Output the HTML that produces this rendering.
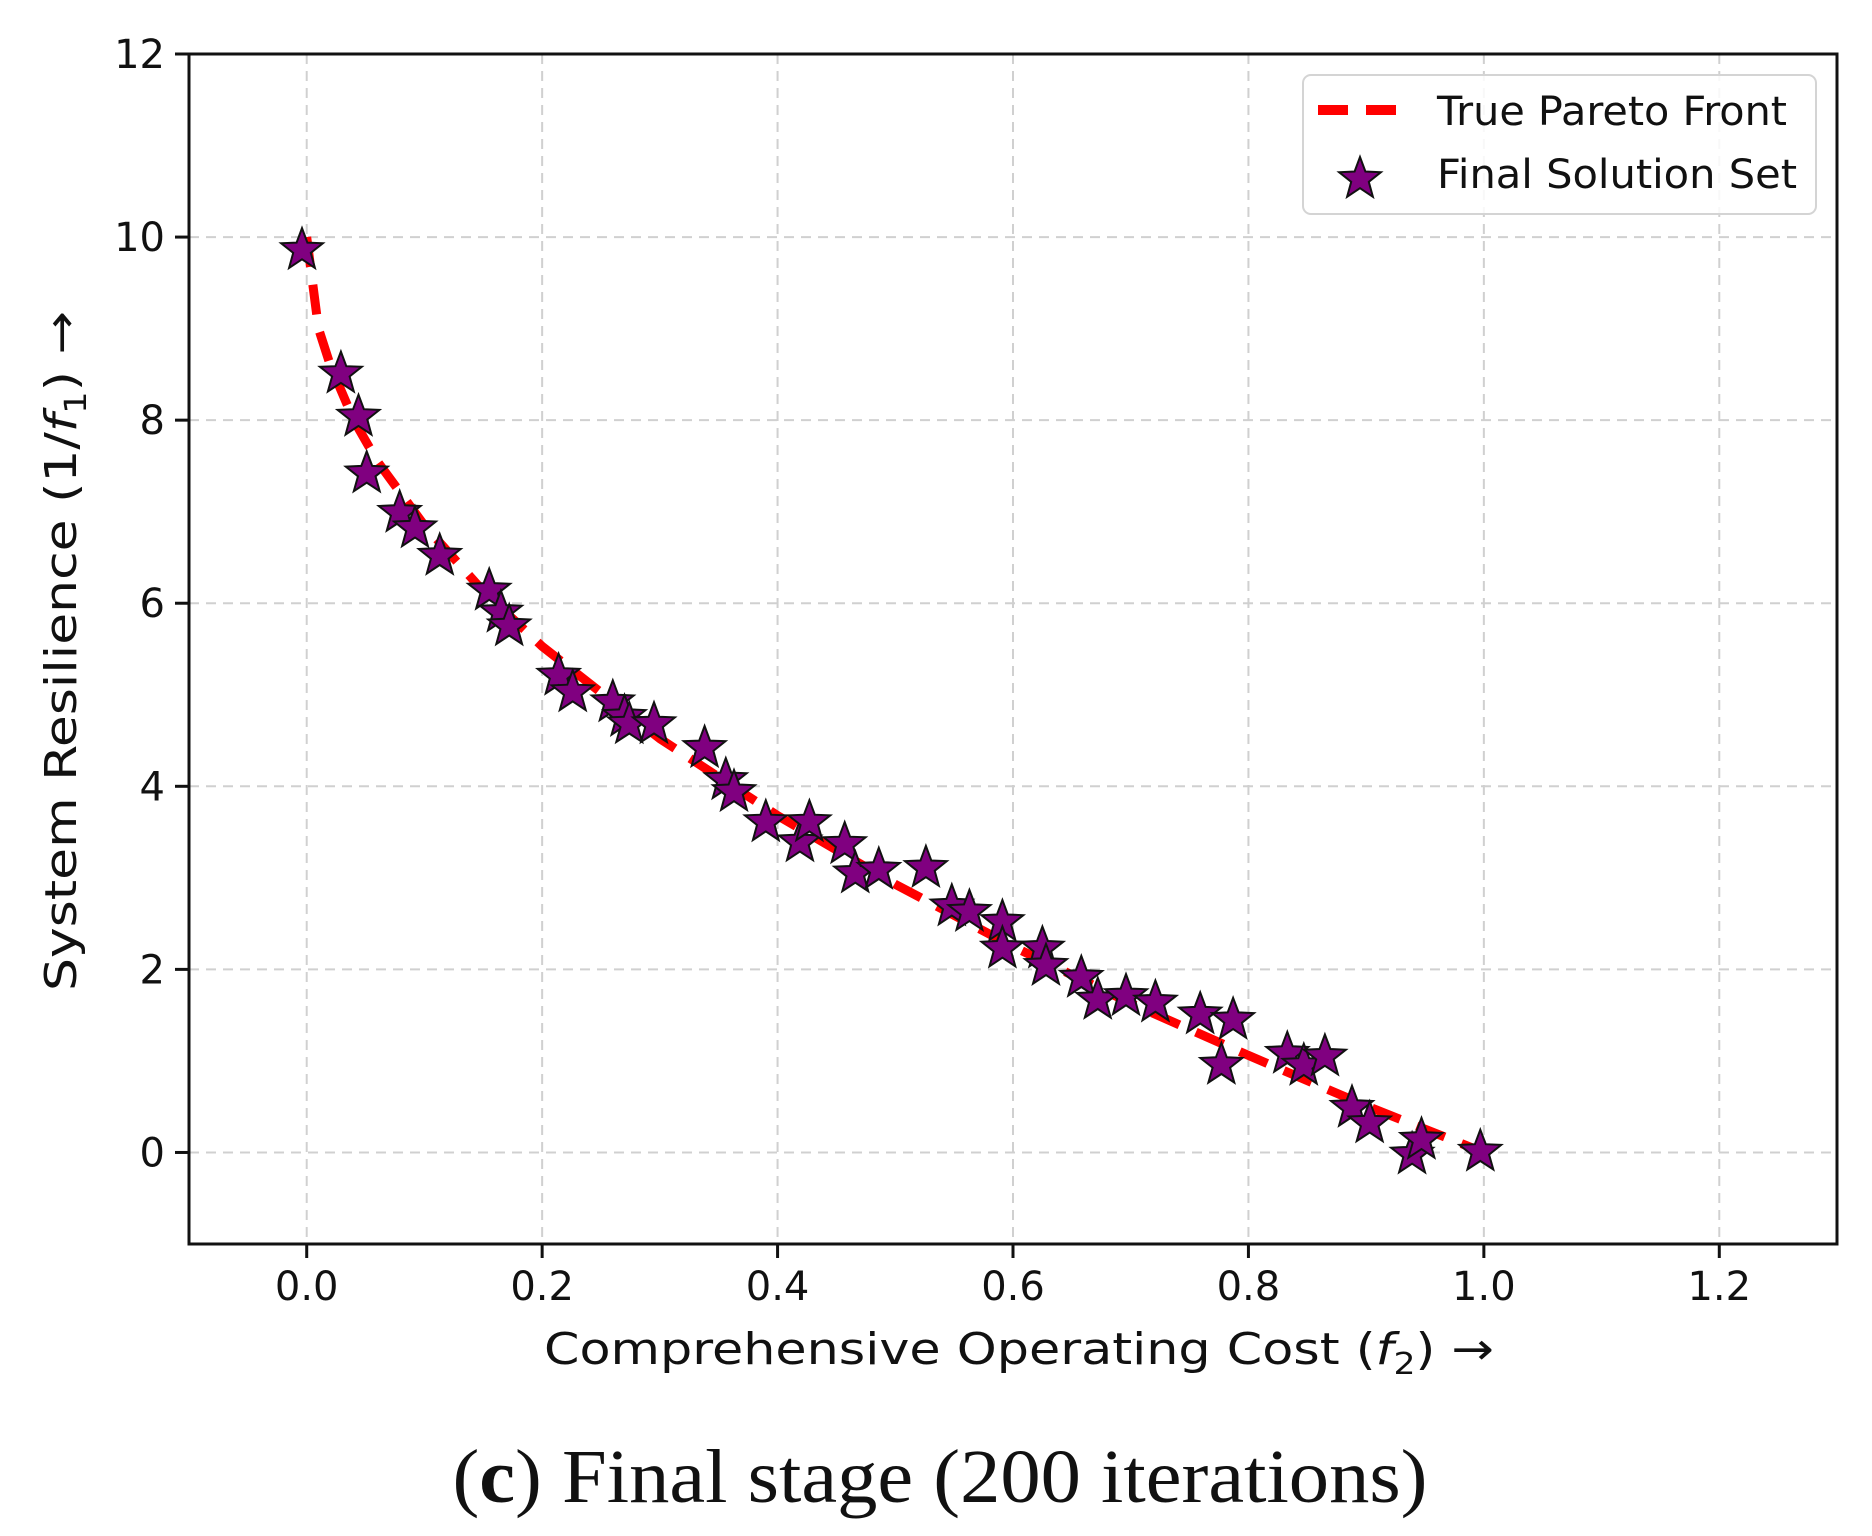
<!DOCTYPE html>
<html><head><meta charset="utf-8"><style>
html,body{margin:0;padding:0;background:#fff;}
svg{display:block;}
text{font-family:"DejaVu Sans","Liberation Sans",sans-serif;fill:#111;}
</style></head><body>
<svg id="chart" width="1872" height="1536" viewBox="0 0 1872 1536" xmlns="http://www.w3.org/2000/svg">
<rect x="0" y="0" width="1872" height="1536" fill="#fff"/>
<g id="grid"></g>
<g id="front"></g>
<g id="stars"></g>
<rect x="189" y="54" width="1648" height="1190" fill="none" stroke="#111" stroke-width="3"/>
<g id="ticks"></g>
<text x="1019" y="1364" font-size="44" text-anchor="middle" textLength="950" lengthAdjust="spacingAndGlyphs">Comprehensive Operating Cost (<tspan font-style="italic">f</tspan><tspan font-size="30" dy="10">2</tspan><tspan dy="-10">) →</tspan></text>
<text transform="translate(76,651) rotate(-90)" font-size="44" text-anchor="middle" textLength="680" lengthAdjust="spacingAndGlyphs">System Resilience (1/<tspan font-style="italic">f</tspan><tspan font-size="30" dy="10">1</tspan><tspan dy="-10">) →</tspan></text>
<g>
<rect x="1303" y="75" width="513" height="139" rx="8" fill="#fff" fill-opacity="0.85" stroke="#d4d4d4" stroke-width="2"/>
<line x1="1318" y1="110" x2="1402" y2="110" stroke="#ff0000" stroke-width="10" stroke-dasharray="30,18"/>
<text x="1437" y="125" font-size="40" textLength="350" lengthAdjust="spacingAndGlyphs">True Pareto Front</text>
<polygon id="legstar" fill="#800080" stroke="#111" stroke-width="2"/>
<text x="1437" y="188" font-size="40" textLength="360" lengthAdjust="spacingAndGlyphs">Final Solution Set</text>
</g>
<text x="940" y="1502" font-size="76" text-anchor="middle" style="font-family:'Liberation Serif',serif" textLength="975" lengthAdjust="spacingAndGlyphs">(<tspan font-weight="bold">c</tspan>) Final stage (200 iterations)</text>
</svg>
<script>
const xTicks = [0.0, 0.2, 0.4, 0.6, 0.8, 1.0, 1.2];
const xTickLabels = ["0.0","0.2","0.4","0.6","0.8","1.0","1.2"];
const yTicks = [0, 2, 4, 6, 8, 10, 12];
const yTickLabels = ["0","2","4","6","8","10","12"];
const frontX = [0,0.01,0.02,0.04,0.06,0.1,0.15,0.2,0.3,0.4,0.5,0.6,0.7,0.8,0.9,1.0];
const frontY = [10,9.0,8.6,8.0,7.55,6.85,6.13,5.53,4.52,3.68,2.93,2.25,1.63,1.06,0.51,0];
const solX = [-0.004,0.029,0.044,0.051,0.079,0.092,0.113,0.155,0.165,0.172,0.214,0.226,0.260,0.270,0.274,0.295,0.338,0.356,0.363,0.390,0.419,0.427,0.457,0.466,0.486,0.526,0.548,0.563,0.591,0.591,0.625,0.628,0.658,0.672,0.696,0.721,0.759,0.787,0.777,0.833,0.847,0.865,0.888,0.903,0.939,0.947,0.997];
const solY = [9.88,8.53,8.06,7.44,7.01,6.84,6.54,6.16,5.92,5.77,5.23,5.05,4.94,4.78,4.70,4.70,4.44,4.09,3.96,3.63,3.41,3.63,3.39,3.07,3.11,3.13,2.71,2.65,2.54,2.25,2.25,2.06,1.93,1.69,1.73,1.66,1.53,1.47,0.98,1.10,0.97,1.07,0.51,0.34,0.00,0.16,0.03];

const L=189,R=1837,T=54,B=1244, X0=-0.1,X1=1.3,Y0=-1,Y1=12;
const sx=v=>L+(v-X0)/(X1-X0)*(R-L);
const sy=v=>B-(v-Y0)/(Y1-Y0)*(B-T);
const NS="http://www.w3.org/2000/svg";
function mk(tag,attrs,parent){const e=document.createElementNS(NS,tag);for(const k in attrs)e.setAttribute(k,attrs[k]);parent.appendChild(e);return e;}
function starPts(cx,cy,r){let p=[];for(let i=0;i<10;i++){const a=-Math.PI/2+i*Math.PI/5;const rr=i%2?r*0.42:r;p.push((cx+rr*Math.cos(a)).toFixed(1)+","+(cy+rr*Math.sin(a)).toFixed(1));}return p.join(" ");}
const grid=document.getElementById('grid'),ticks=document.getElementById('ticks');
xTicks.forEach((v,i)=>{
  const x=sx(v);
  const g=mk('line',{x1:x,y1:T,x2:x,y2:B,stroke:'#d0d0d0','stroke-width':2,'stroke-dasharray':'10,7'},grid);
  
  
  const t=mk('line',{x1:x,y1:B,x2:x,y2:B+14,stroke:'#111','stroke-width':3},ticks);
  
  
  const l=mk('text',{x:x,y:B+56,'font-size':40,'text-anchor':'middle'},ticks);
  l.textContent=xTickLabels[i];
  
  
});
yTicks.forEach((v,i)=>{
  const y=sy(v);
  const g=mk('line',{x1:L,y1:y,x2:R,y2:y,stroke:'#d0d0d0','stroke-width':2,'stroke-dasharray':'10,7'},grid);
  
  
  const t=mk('line',{x1:L-14,y1:y,x2:L,y2:y,stroke:'#111','stroke-width':3},ticks);
  
  
  const l=mk('text',{x:L-24,y:y+14,'font-size':40,'text-anchor':'end'},ticks);
  l.textContent=yTickLabels[i];
  
  
});
const pts=frontX.map((v,i)=>sx(v).toFixed(1)+","+sy(frontY[i]).toFixed(1)).join(" ");
const fl=mk('polyline',{points:pts,fill:'none',stroke:'#ff0000','stroke-width':9,'stroke-dasharray':'30,18','stroke-linejoin':'round'},document.getElementById('front'));


const sg=document.getElementById('stars');
solX.forEach((v,i)=>{
  const s=mk('polygon',{points:starPts(sx(v),sy(solY[i])+2,22),fill:'#800080',stroke:'#111','stroke-width':2,'stroke-linejoin':'miter'},sg);
  
  
});
document.getElementById('legstar').setAttribute('points',starPts(1360,179,22));
</script>
</body></html>
